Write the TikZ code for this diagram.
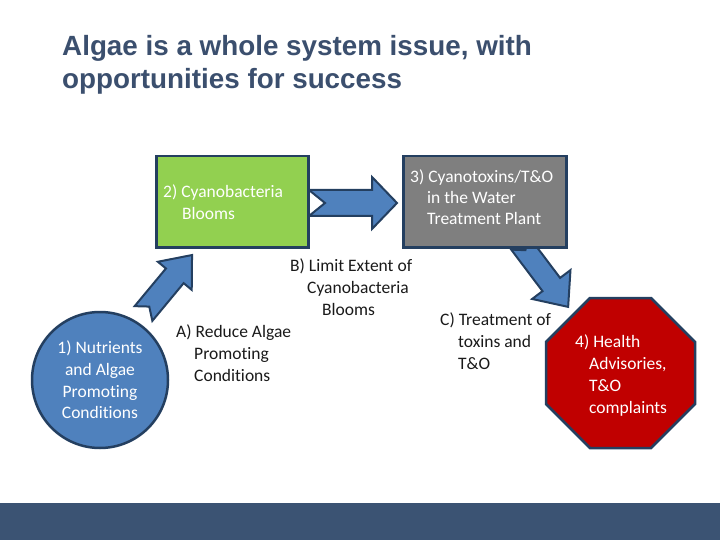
\documentclass[tikz,border=0pt]{standalone}
\usepackage{fontspec}
\setmainfont{Carlito}[Ligatures={NoCommon}]
\newfontfamily\titlefont{Liberation Sans}
\usetikzlibrary{shapes.geometric}
\definecolor{navy}{HTML}{243F60}
\definecolor{titleblue}{HTML}{3B4F6E}
\definecolor{barblue}{HTML}{3B5373}
\definecolor{arrowblue}{HTML}{4F81BD}
\definecolor{boxgreen}{HTML}{92D050}
\definecolor{boxgray}{HTML}{7F7F7F}
\definecolor{stopred}{HTML}{C00000}
\definecolor{labeltext}{HTML}{1A1A1A}
\tikzset{
  shapeline/.style={draw=navy, line width=2.5pt, line join=miter},
  inbox/.style={font=\fontsize{17.5}{22}\selectfont, text=white, inner sep=0pt, anchor=base west},
  lbl/.style={font=\fontsize{17.5}{22}\selectfont, text=labeltext, inner sep=0pt, anchor=base west},
  ttl/.style={font=\titlefont\bfseries\fontsize{27.8}{32}\selectfont, text=titleblue, inner sep=0pt, anchor=base west},
  blockarrow/.style={shapeline, fill=arrowblue, line width=2pt}
}
% block arrow: #1 length, #2 body half width, #3 head half width, #4 head length, #5 notch
\newcommand{\notcharrow}[5]{(0,#2) -- (#1-#4,#2) -- (#1-#4,#3) -- (#1,0) -- (#1-#4,-#3) -- (#1-#4,-#2) -- (0,-#2) -- (#5,0) -- cycle}
\begin{document}
\begin{tikzpicture}[x=1pt,y=-1pt]
\useasboundingbox (0,0) rectangle (720,540);
\fill[white] (0,0) rectangle (720,540);
% title
\node[ttl] (title1) at (62,56) {Algae is a whole system issue, with};
\node[ttl] (title2) at (62,89) {opportunities for success};
% bottom bar
\fill[barblue] (0,503) rectangle (720,540);

% arrows (drawn first so boxes overlap tails)
\draw[blockarrow, shift={(309,203)}] \notcharrow{88}{13}{26}{25}{16};
\draw[blockarrow, shift={(143.5,313.5)}, rotate=50.3] \notcharrow{76}{11.5}{22}{27}{9};
\draw[blockarrow, shift={(520,243)}, rotate=-53] \notcharrow{80}{11}{24}{28}{9};

% boxes
\node[shapeline, fill=boxgreen, rectangle, minimum width=152pt, minimum height=91pt, anchor=north west, inner sep=0pt] (green) at (155,155) {};
\node[shapeline, fill=boxgray, rectangle, minimum width=163pt, minimum height=91pt, anchor=north west, inner sep=0pt] (gray) at (402,155) {};
\node[shapeline, fill=arrowblue, circle, minimum size=136pt, inner sep=0pt] (circ) at (100,380) {};
\draw[shapeline, fill=stopred] (590,298) -- (651,298) -- (695,342) -- (695,404) -- (651,448) -- (590,448) -- (546,404) -- (546,342) -- cycle;
\coordinate (oct) at (620,373);

% box texts
\node[inbox] (g1) at (163,197) {2) Cyanobacteria};
\node[inbox] (g2) at (182,219) {Blooms};
\node[inbox] (r1) at (410,183) {3) Cyanotoxins/T\&O};
\node[inbox] (r2) at (427,204) {in the Water};
\node[inbox] (r3) at (427,225) {Treatment Plant};
\node[inbox, anchor=base] (c1) at (100,353) {1) Nutrients};
\node[inbox, anchor=base] (c2) at (100,375) {and Algae};
\node[inbox, anchor=base] (c3) at (100,397) {Promoting};
\node[inbox, anchor=base] (c4) at (100,418) {Conditions};
\node[inbox] (o1) at (575,347) {4) Health};
\node[inbox] (o2) at (589,369) {Advisories,};
\node[inbox] (o3) at (589,391) {T\&O};
\node[inbox] (o4) at (589,413) {complaints};

% free labels
\node[lbl] (b1) at (290,271) {B) Limit Extent of};
\node[lbl] (b2) at (307,293) {Cyanobacteria};
\node[lbl] (b3) at (322,315) {Blooms};
\node[lbl] (a1) at (176,337) {A) Reduce Algae};
\node[lbl] (a2) at (194,359) {Promoting};
\node[lbl] (a3) at (194,381) {Conditions};
\node[lbl] (t1) at (440,325) {C) Treatment of};
\node[lbl] (t2) at (458,347) {toxins and};
\node[lbl] (t3) at (458,369) {T\&O};
\end{tikzpicture}
\end{document}
